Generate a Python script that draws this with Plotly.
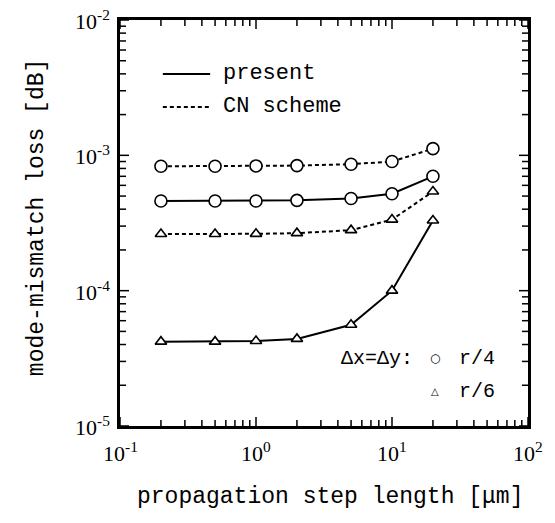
import plotly.graph_objects as go

# step lengths [um]
step = [0.2, 0.5, 1, 2, 5, 10, 20]

present_r4 = [4.6e-4, 4.6e-4, 4.6e-4, 4.65e-4, 4.8e-4, 5.2e-4, 7.0e-4]
cn_r4 = [8.3e-4, 8.3e-4, 8.35e-4, 8.4e-4, 8.6e-4, 9.0e-4, 1.12e-3]
present_r6 = [4.2e-5, 4.2e-5, 4.25e-5, 4.4e-5, 5.6e-5, 1.0e-4, 3.3e-4]
cn_r6 = [2.62e-4, 2.62e-4, 2.63e-4, 2.66e-4, 2.8e-4, 3.35e-4, 5.4e-4]

# decade exponents for tick labels
x_exps = [-1, 0, 1, 2]
y_exps = [-5, -4, -3, -2]

MONO = "'Liberation Mono', 'Courier New', monospace"
SERIF = "'Liberation Serif', 'Times New Roman', serif"

W, H = 547, 515
ML, MR, MT, MB = 112, 27, 12, 97
PW, PH = W - ML - MR, H - MT - MB

fig = go.Figure()

def add(y, dash, symbol, size):
    fig.add_trace(go.Scatter(
        x=step, y=y, mode="lines+markers",
        line=dict(color="black", width=2, dash=dash),
        marker=dict(symbol=symbol, size=size, color="white",
                    line=dict(color="black", width=1.6)),
        showlegend=False, cliponaxis=False))

add(cn_r4, "4px,3px", "circle", 12)
add(present_r4, "solid", "circle", 12)
add(cn_r6, "4px,3px", "triangle-up", 10)
add(present_r6, "solid", "triangle-up", 10)

axis_common = dict(
    type="log", showgrid=False, zeroline=False, automargin=False,
    showline=True, linecolor="black", linewidth=2.5, mirror=True,
    ticks="", showticklabels=False,
)
fig.update_xaxes(**axis_common, range=[min(x_exps), max(x_exps)])
fig.update_yaxes(**axis_common, range=[min(y_exps), max(y_exps)])

# inside tick marks on all four sides (major at decades, minor at 2..9)
def tick_values(exps):
    major = [10.0 ** e for e in exps]
    minor = [m * 10.0 ** e for e in exps[:-1] for m in range(2, 10)]
    return major, minor

MAJ_LEN, MIN_LEN = 9, 6
tick_line = dict(color="black", width=1.5)
xmaj, xmin_ = tick_values(x_exps)
ymaj, ymin_ = tick_values(y_exps)
for vals, ln in ((xmaj, MAJ_LEN), (xmin_, MIN_LEN)):
    f = ln / PH
    for v in vals:
        fig.add_shape(type="line", xref="x", yref="paper", x0=v, x1=v, y0=0, y1=f, line=tick_line)
        fig.add_shape(type="line", xref="x", yref="paper", x0=v, x1=v, y0=1, y1=1 - f, line=tick_line)
for vals, ln in ((ymaj, MAJ_LEN), (ymin_, MIN_LEN)):
    f = ln / PW
    for v in vals:
        fig.add_shape(type="line", xref="paper", yref="y", x0=0, x1=f, y0=v, y1=v, line=tick_line)
        fig.add_shape(type="line", xref="paper", yref="y", x0=1, x1=1 - f, y0=v, y1=v, line=tick_line)

tick_font = dict(family=SERIF, size=22, color="black")
for e in x_exps:
    fig.add_annotation(xref="x", yref="paper", x=e, y=0, yshift=-26,
                       xanchor="center", yanchor="middle", showarrow=False,
                       text=f"10<sup>{e}</sup>", font=tick_font)
for e in y_exps:
    fig.add_annotation(xref="paper", yref="y", x=0, y=e, xshift=-8,
                       xanchor="right", yanchor="middle", showarrow=False,
                       text=f"10<sup>{e}</sup>", font=tick_font)

title_font = dict(family=MONO, size=23, color="black")
fig.add_annotation(xref="paper", yref="paper", x=0.515, y=0, yshift=-71,
                   xanchor="center", yanchor="middle", showarrow=False,
                   text="propagation step length [\u03bcm]", font=title_font)
fig.add_annotation(xref="paper", yref="paper", x=0, y=0.512, xshift=-83,
                   xanchor="center", yanchor="middle", showarrow=False, textangle=-90,
                   text="mode-mismatch loss [dB]", font=title_font)

# legend (line styles)
fig.add_shape(type="line", xref="paper", yref="paper", x0=0.105, x1=0.221, y0=0.867, y1=0.867,
              line=dict(color="black", width=2))
fig.add_shape(type="line", xref="paper", yref="paper", x0=0.105, x1=0.221, y0=0.786, y1=0.786,
              line=dict(color="black", width=2, dash="4px,3px"))
leg_font = dict(family=MONO, size=22, color="black")
fig.add_annotation(xref="paper", yref="paper", x=0.248, y=0.867, xanchor="left", yanchor="middle",
                   text="present", showarrow=False, font=leg_font)
fig.add_annotation(xref="paper", yref="paper", x=0.248, y=0.786, xanchor="left", yanchor="middle",
                   text="CN scheme", showarrow=False, font=leg_font)

# symbol key
key_font = dict(family=MONO, size=20, color="black")
fig.add_annotation(xref="paper", yref="paper", x=0.723, y=0.167, xanchor="right", yanchor="middle",
                   text="\u0394x=\u0394y:", showarrow=False, font=key_font)
fig.add_annotation(xref="paper", yref="paper", x=0.772, y=0.167, xanchor="center", yanchor="middle",
                   text="\u25cb", showarrow=False, font=dict(family="DejaVu Sans", size=12, color="black"))
fig.add_annotation(xref="paper", yref="paper", x=0.826, y=0.167, xanchor="left", yanchor="middle",
                   text="r/4", showarrow=False, font=key_font)
fig.add_annotation(xref="paper", yref="paper", x=0.772, y=0.084, xanchor="center", yanchor="middle",
                   text="\u25b3", showarrow=False, font=dict(family="DejaVu Sans", size=10, color="black"))
fig.add_annotation(xref="paper", yref="paper", x=0.826, y=0.084, xanchor="left", yanchor="middle",
                   text="r/6", showarrow=False, font=key_font)

fig.update_layout(
    width=W, height=H,
    margin=dict(l=ML, r=MR, t=MT, b=MB),
    plot_bgcolor="white", paper_bgcolor="white",
)

fig.write_html("out.html")
